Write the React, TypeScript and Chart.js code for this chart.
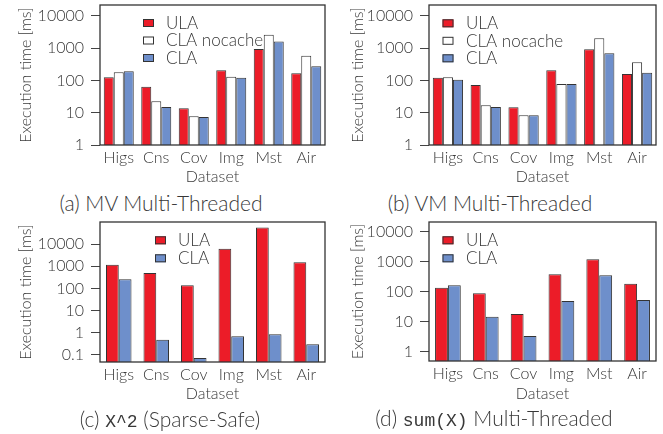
import React, { useEffect, useRef } from 'react';
import { Chart, registerables } from 'chart.js';

Chart.register(...registerables);

// ---------------- data ----------------
const categories = ['Higs', 'Cns', 'Cov', 'Img', 'Mst', 'Air'];

// (a) MV Multi-Threaded
const mvULA = [125, 64, 13.6, 205, 935, 166];
const mvCLANocache = [178, 22.5, 7.7, 130, 2600, 580];
const mvCLA = [190, 15, 7.4, 121, 1590, 273];

// (b) VM Multi-Threaded
const vmULA = [121, 72, 14.7, 205, 915, 158];
const vmCLANocache = [125, 17, 8.3, 77, 2000, 363];
const vmCLA = [105, 15, 8.3, 77, 690, 173];

// (c) X^2 (Sparse-Safe)
const sqULA = [1180, 500, 137, 6100, 57000, 1520];
const sqCLA = [257, 0.48, 0.071, 0.68, 0.84, 0.3];

// (d) sum(X) Multi-Threaded
const sumULA = [139, 90, 18.4, 388, 1230, 189];
const sumCLA = [167, 15, 3.4, 50, 360, 54];

const yTicksAB = [1, 10, 100, 1000, 10000];
const yTicksC = [0.1, 1, 10, 100, 1000, 10000];
const yTicksD = [1, 10, 100, 1000, 10000];

const RED = '#EC1C28';
const WHITE = '#FFFFFF';
const BLUE = '#6E8FCB';
const EDGE = '#333333';
const TEXT = '#383838';
const FAMILY = 'Lato, "Open Sans", sans-serif';
const MONO = '"Liberation Mono", "DejaVu Sans Mono", monospace';
const AXIS_FONT_SIZE = 16;
const WEIGHT = '300';

type DS = { label: string; data: number[]; color: string };
type PanelSpec = {
  left: number; top: number; width: number; height: number;
  yMin: number; yMax: number; yTicks: number[];
  datasets: DS[]; catPct: number;
  yAxisWidth: number; padTop: number; padRight: number; xAxisHeight: number; yTitlePad: number;
  legendBoxX: number; legendTextX: number; legendY: number; legendDy: number;
};

const panels: PanelSpec[] = [
  {
    left: 0, top: 0, width: 331, height: 190,
    yMin: 1, yMax: 21500, yTicks: yTicksAB,
    datasets: [
      { label: 'ULA', data: mvULA, color: RED },
      { label: 'CLA nocache', data: mvCLANocache, color: WHITE },
      { label: 'CLA', data: mvCLA, color: BLUE },
    ],
    catPct: 0.8, yAxisWidth: 100, padTop: 5, padRight: 6, xAxisHeight: 45, yTitlePad: 16,
    legendBoxX: 43, legendTextX: 66, legendY: 18, legendDy: 17.5,
  },
  {
    left: 331, top: 0, width: 332, height: 190,
    yMin: 1, yMax: 21500, yTicks: yTicksAB,
    datasets: [
      { label: 'ULA', data: vmULA, color: RED },
      { label: 'CLA nocache', data: vmCLANocache, color: WHITE },
      { label: 'CLA', data: vmCLA, color: BLUE },
    ],
    catPct: 0.8, yAxisWidth: 98, padTop: 5, padRight: 7, xAxisHeight: 45, yTitlePad: 17,
    legendBoxX: 13.5, legendTextX: 37, legendY: 18.3, legendDy: 17.5,
  },
  {
    left: 0, top: 217, width: 331, height: 190,
    yMin: 0.047, yMax: 100000, yTicks: yTicksC,
    datasets: [
      { label: 'ULA', data: sqULA, color: RED },
      { label: 'CLA', data: sqCLA, color: BLUE },
    ],
    catPct: 0.68, yAxisWidth: 100, padTop: 5, padRight: 6, xAxisHeight: 45, yTitlePad: 16,
    legendBoxX: 55, legendTextX: 78, legendY: 18.3, legendDy: 18,
  },
  {
    left: 331, top: 217, width: 332, height: 190,
    yMin: 0.5, yMax: 21400, yTicks: yTicksD,
    datasets: [
      { label: 'ULA', data: sumULA, color: RED },
      { label: 'CLA', data: sumCLA, color: BLUE },
    ],
    catPct: 0.68, yAxisWidth: 98, padTop: 5, padRight: 7, xAxisHeight: 46, yTitlePad: 17,
    legendBoxX: 13.5, legendTextX: 37, legendY: 18.3, legendDy: 18,
  },
];

const framePlugin = {
  id: 'frame',
  afterDraw(chart: any) {
    const { ctx, chartArea } = chart;
    ctx.save();
    ctx.strokeStyle = EDGE;
    ctx.lineWidth = 1.3;
    ctx.strokeRect(chartArea.left, chartArea.top, chartArea.right - chartArea.left, chartArea.bottom - chartArea.top);
    ctx.restore();
  },
};

const insideLegendPlugin = {
  id: 'insideLegend',
  afterDraw(chart: any, _args: any, opts: any) {
    const { ctx, chartArea } = chart;
    ctx.save();
    ctx.font = `${WEIGHT} 17px ${FAMILY}`;
    ctx.textBaseline = 'middle';
    ctx.textAlign = 'left';
    chart.data.datasets.forEach((ds: any, i: number) => {
      const cy = chartArea.top + opts.y + i * opts.dy;
      const bx = chartArea.left + opts.boxX;
      ctx.fillStyle = ds.backgroundColor;
      ctx.fillRect(bx, cy - 4, 11, 8);
      ctx.strokeStyle = EDGE;
      ctx.lineWidth = 1;
      ctx.strokeRect(bx + 0.5, cy - 3.5, 10, 7);
      ctx.fillStyle = TEXT;
      ctx.fillText(ds.label, chartArea.left + opts.textX, cy + 0.5);
    });
    ctx.restore();
  },
};

function makeConfig(spec: PanelSpec): any {
  const font = { family: FAMILY, size: AXIS_FONT_SIZE, weight: WEIGHT };
  return {
    type: 'bar',
    data: {
      labels: categories,
      datasets: spec.datasets.map((d) => ({
        label: d.label,
        data: d.data,
        backgroundColor: d.color,
        borderColor: EDGE,
        borderWidth: 1,
        borderSkipped: 'start',
        categoryPercentage: spec.catPct,
        barPercentage: 1,
      })),
    },
    options: {
      animation: false,
      responsive: true,
      maintainAspectRatio: false,
      layout: { padding: { top: spec.padTop, right: spec.padRight, left: 0, bottom: 0 } },
      plugins: {
        legend: { display: false },
        tooltip: { enabled: false },
        insideLegend: { boxX: spec.legendBoxX, textX: spec.legendTextX, y: spec.legendY, dy: spec.legendDy },
      },
      scales: {
        x: {
          type: 'category',
          offset: true,
          grid: { display: false, drawTicks: false },
          border: { display: false },
          ticks: { color: TEXT, font, padding: 3, maxRotation: 0, autoSkip: false },
          title: { display: true, text: 'Dataset', color: TEXT, font, padding: { top: 0, bottom: 4 } },
          afterFit: (s: any) => {
            s.height = spec.xAxisHeight;
            s.paddingLeft = 0; s.paddingRight = 0; s.paddingTop = 0; s.paddingBottom = 0;
          },
        },
        y: {
          type: 'logarithmic',
          min: spec.yMin,
          max: spec.yMax,
          grid: { drawOnChartArea: false, drawTicks: true, tickLength: 9, color: '#444444', lineWidth: 1 },
          border: { display: false },
          ticks: { color: TEXT, font, padding: 7, callback: (v: any) => String(v) },
          afterBuildTicks: (s: any) => { s.ticks = spec.yTicks.map((v) => ({ value: v })); },
          title: { display: true, text: 'Execution time [ms]', color: TEXT, font, padding: { top: spec.yTitlePad, bottom: 0 } },
          afterFit: (s: any) => {
            s.width = spec.yAxisWidth;
            s.paddingLeft = 0; s.paddingRight = 0; s.paddingTop = 0; s.paddingBottom = 0;
          },
        },
      },
    },
    plugins: [framePlugin, insideLegendPlugin],
  };
}

function Panel({ spec }: { spec: PanelSpec }) {
  const ref = useRef<HTMLCanvasElement | null>(null);
  useEffect(() => {
    if (!ref.current) return;
    const chart = new Chart(ref.current, makeConfig(spec));
    return () => chart.destroy();
  }, [spec]);
  return (
    <div style={{ position: 'absolute', left: spec.left, top: spec.top, width: spec.width, height: spec.height }}>
      <canvas ref={ref} />
    </div>
  );
}

const captionStyle = (cx: number, cy: number): React.CSSProperties => ({
  position: 'absolute',
  left: cx - 200,
  width: 400,
  top: cy - 13,
  height: 26,
  lineHeight: '26px',
  textAlign: 'center',
  fontFamily: FAMILY,
  fontWeight: 300,
  fontSize: 21,
  color: TEXT,
  whiteSpace: 'nowrap',
});

const mono: React.CSSProperties = { fontFamily: MONO, fontSize: 18, fontWeight: 400 };

export default function App() {
  return (
    <div style={{ position: 'absolute', left: 0, top: 0, width: 663, height: 434, background: '#fff', overflow: 'hidden' }}>
      {panels.map((p, i) => <Panel key={i} spec={p} />)}
      <div style={captionStyle(161, 203)}>(a) MV Multi-Threaded</div>
      <div style={captionStyle(490, 203)}>(b) VM Multi-Threaded</div>
      <div style={captionStyle(170, 419)}>(c) <span style={mono}>X^2</span> (Sparse-Safe)</div>
      <div style={captionStyle(494, 418)}>(d) <span style={mono}>sum(X)</span> Multi-Threaded</div>
    </div>
  );
}
